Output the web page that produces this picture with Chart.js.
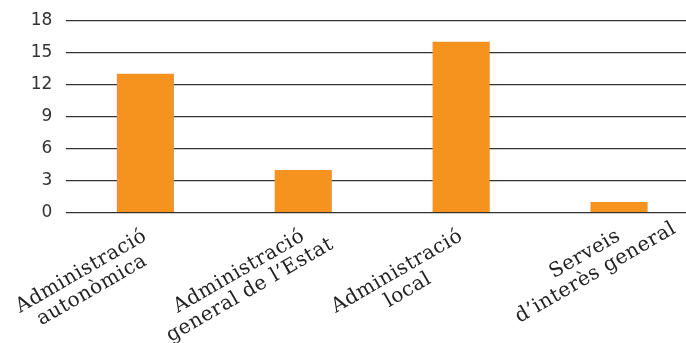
<!DOCTYPE html>
<html>
<head>
<meta charset="utf-8">
<script src="https://cdn.jsdelivr.net/npm/chart.js@4/dist/chart.umd.min.js"></script>
<style>
  html, body { margin: 0; padding: 0; background: #fff; overflow: hidden; }
  #wrap { width: 686px; height: 343px; overflow: hidden; position: relative; }
  canvas { display: block; }
</style>
</head>
<body>
<!-- the plot runs slightly past the right edge of the visible frame -->
<div id="wrap"><canvas id="c" width="698" height="343"></canvas></div>
<script>
// Categories (each label split into lines) and counts
const categories = [
  ['Administració', 'autonòmica'],
  ['Administració', 'general de l\u2019Estat'],
  ['Administració', 'local'],
  ['Serveis', 'd\u2019interès general']
];
const values = [13, 4, 16, 1];
const yTicks = [0, 3, 6, 9, 12, 15, 18];

// Category labels tilted 30 degrees: the first line ends under the tick,
// the following lines are centred on the first one.
const tiltedLabels = {
  id: 'tiltedLabels',
  afterDraw(chart) {
    const { ctx, scales: { x, y } } = chart;
    const base = y.getPixelForValue(0);
    const lineH = 21.5;
    ctx.save();
    ctx.font = '20px "DejaVu Serif"';
    ctx.letterSpacing = '0.5px';
    ctx.fillStyle = '#222';
    ctx.textAlign = 'center';
    ctx.textBaseline = 'middle';
    categories.forEach((lines, i) => {
      const px = x.getPixelForValue(i);
      const w1 = ctx.measureText(lines[0]).width;
      ctx.save();
      ctx.translate(px, base + 22);
      ctx.rotate(-Math.PI / 6);
      lines.forEach((t, k) => {
        ctx.fillText(t, -w1 / 2, k * lineH);
      });
      ctx.restore();
    });
    ctx.restore();
  }
};

new Chart(document.getElementById('c'), {
  type: 'bar',
  data: {
    labels: categories.map(l => l.join(' ')),
    datasets: [{
      data: values,
      backgroundColor: '#F6921E',
      borderWidth: 0,
      categoryPercentage: 1,
      barPercentage: 0.362
    }]
  },
  options: {
    responsive: false,
    animation: false,
    events: [],
    layout: { autoPadding: false, padding: { left: 30.8, right: 0, top: 20.3, bottom: 130.3 } },
    plugins: { legend: { display: false }, tooltip: { enabled: false } },
    scales: {
      x: { display: false },
      y: {
        min: 0,
        max: 18,
        afterBuildTicks(scale) { scale.ticks = yTicks.map(v => ({ value: v })); },
        // invisible tick marks keep the gap between the numbers and the grid
        grid: { color: '#333', lineWidth: 1.3, drawTicks: true, tickLength: 14, tickColor: 'rgba(0,0,0,0)' },
        border: { display: false },
        ticks: {
          padding: 0,
          color: '#333',
          font: { family: '"DejaVu Sans"', size: 17 }
        }
      }
    }
  },
  plugins: [tiltedLabels]
});
</script>
</body>
</html>
